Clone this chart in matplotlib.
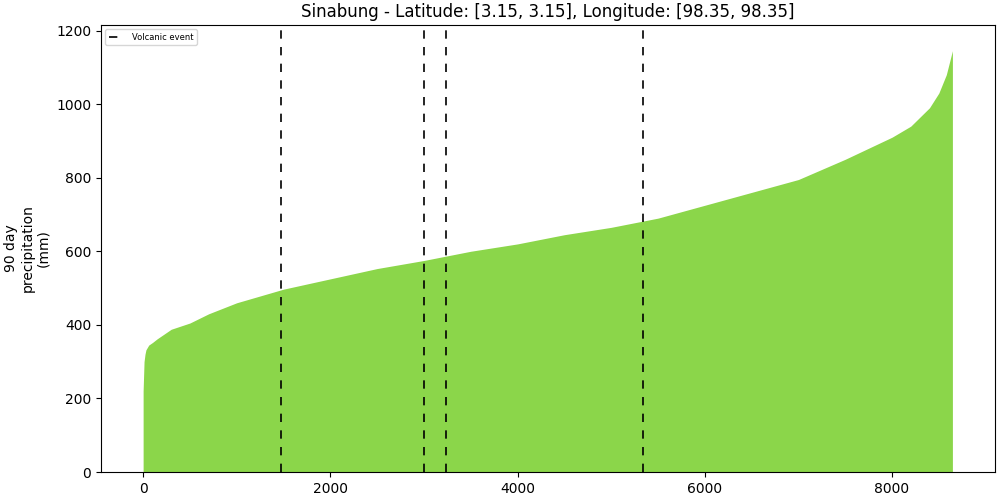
import matplotlib
matplotlib.use("Agg")
import matplotlib.pyplot as plt

# ранги и значения (отсортированные осадки за 90 дней)
rank = [0, 5, 10, 20, 30, 60, 100, 150, 300, 500, 700, 1000, 1500, 2000, 2500,
        3000, 3500, 4000, 4500, 5000, 5500, 6000, 6500, 7000, 7500, 8000, 8200,
        8400, 8500, 8580, 8620, 8645]
precip = [220, 260, 300, 320, 332, 345, 352, 362, 388, 405, 430, 460, 497, 525,
          553, 575, 600, 620, 645, 665, 690, 725, 760, 795, 850, 910, 940, 990,
          1030, 1080, 1120, 1145]
events = [1470, 3000, 3240, 5340]

fig, ax = plt.subplots(figsize=(10, 5), dpi=100)
ax.fill_between(rank, precip, 0, color="#8bd64a", linewidth=0)

for i, x in enumerate(events):
    ax.axvline(x, color="black", linestyle=(0, (5, 5)), linewidth=1.2,
               label="Volcanic event" if i == 0 else None)

ax.set_xlim(-450, 9100)
ax.set_ylim(0, 1215)
ax.set_yticks(range(0, 1201, 200))
ax.set_ylabel("90 day\nprecipitation\n(mm)")
ax.set_title("Sinabung - Latitude: [3.15, 3.15], Longitude: [98.35, 98.35]")
ax.legend(loc="upper left", fontsize=6)

plt.subplots_adjust(left=0.101, right=0.995, top=0.95, bottom=0.056)
plt.savefig("out.png")
